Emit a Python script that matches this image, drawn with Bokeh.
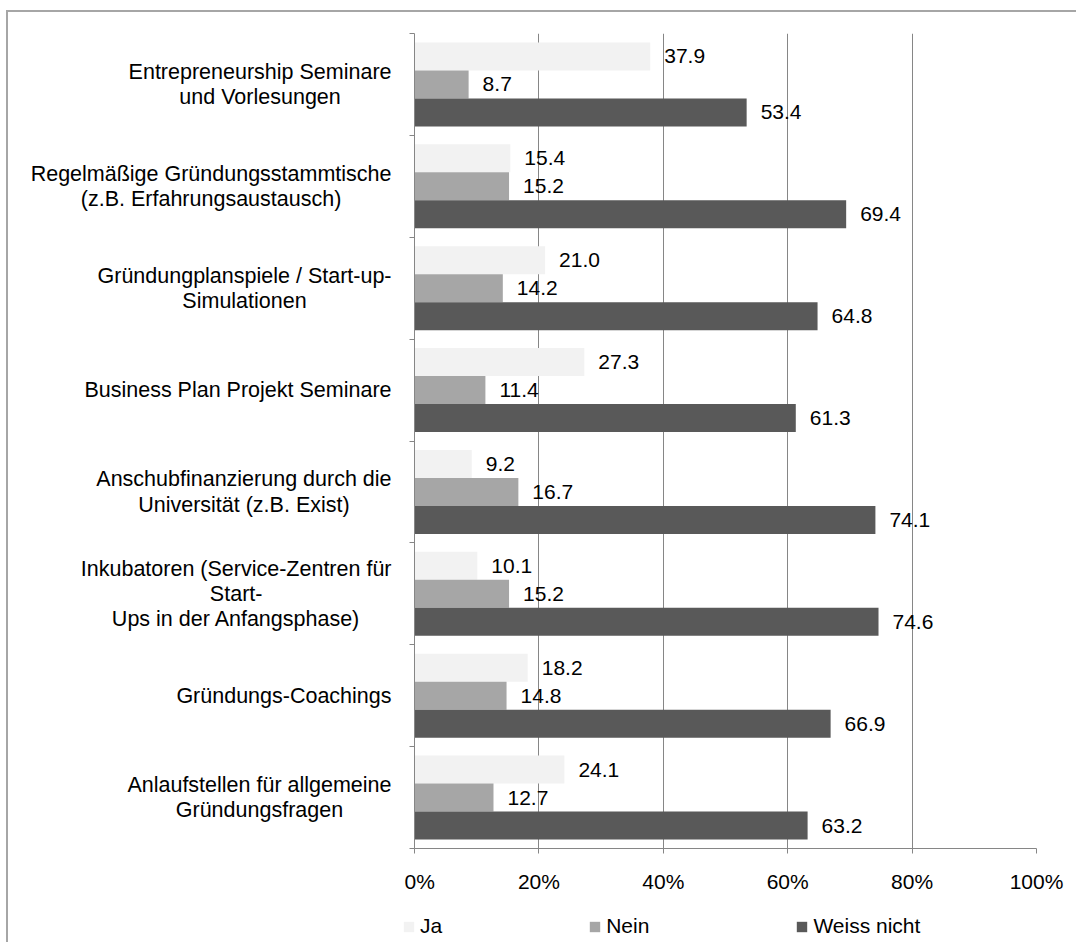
from bokeh.plotting import figure
from bokeh.models import (ColumnDataSource, Range1d, FixedTicker, PrintfTickFormatter,
                          Legend, LegendItem)
from bokeh.layouts import row, column
from bokeh.core.properties import value
from bokeh.transform import dodge
from bokeh.embed import file_html
from bokeh.resources import INLINE

categories = [
    "Entrepreneurship Seminare\nund Vorlesungen",
    "Regelmäßige Gründungsstammtische\n(z.B. Erfahrungsaustausch)",
    "Gründungplanspiele / Start-up-\nSimulationen",
    "Business Plan Projekt Seminare",
    "Anschubfinanzierung durch die\nUniversität (z.B. Exist)",
    "Inkubatoren (Service-Zentren für\nStart-\nUps in der Anfangsphase)",
    "Gründungs-Coachings",
    "Anlaufstellen für allgemeine\nGründungsfragen",
]
ja = [37.9, 15.4, 21.0, 27.3, 9.2, 10.1, 18.2, 24.1]
nein = [8.7, 15.2, 14.2, 11.4, 16.7, 15.2, 14.8, 12.7]
weiss = [53.4, 69.4, 64.8, 61.3, 74.1, 74.6, 66.9, 63.2]
series_names = ["Ja", "Nein", "Weiss nicht"]
x_ticks = [0, 20, 40, 60, 80, 100]

COLORS = ["#f2f2f2", "#a6a6a6", "#595959"]
FONT = "Liberation Sans"
FS = 21
FSS = "%dpx" % FS
CAT_FS = 21.5
GRAY = "#868686"

# Arial / Liberation Sans advance widths (per 1000 em), used to centre label lines
W = dict(zip("abcdefghijklmnopqrstuvwxyz",
             [556, 556, 500, 556, 556, 278, 556, 556, 222, 222, 500, 222, 833,
              556, 556, 556, 556, 333, 500, 278, 556, 500, 722, 500, 500, 500]))
W.update(zip("ABCDEFGHIJKLMNOPQRSTUVWXYZ",
             [667, 667, 722, 722, 667, 611, 778, 722, 278, 500, 667, 556, 833,
              722, 778, 667, 778, 722, 667, 611, 722, 667, 944, 667, 667, 611]))
W.update({" ": 278, "(": 333, ")": 333, "-": 333, ".": 278, "/": 278,
          "ä": 556, "ö": 556, "ü": 556, "ß": 611})


def text_width(s, fs):
    return sum(W.get(c, 556) for c in s) / 1000.0 * fs


TOTAL_W, TOTAL_H = 1076, 942
LAB_W = 404          # width of the category-label column
MAIN_H = 900
LEG_H = TOTAL_H - MAIN_H
TOP, BOTTOM = 33, 52

n = len(categories)
yc = [n - i - 0.5 for i in range(n)]
block_w = [max(text_width(line, CAT_FS) for line in c.split("\n")) for c in categories]
label_right = LAB_W - 13

src = ColumnDataSource(dict(
    cat=categories, yc=yc, ja=ja, nein=nein, weiss=weiss,
    ja_t=["%.1f" % v for v in ja],
    nein_t=["%.1f" % v for v in nein],
    weiss_t=["%.1f" % v for v in weiss],
    lx=[label_right - w / 2.0 for w in block_w],
))

y_range = Range1d(0, n)

# ---------- main bar chart ----------
p = figure(width=TOTAL_W - LAB_W, height=MAIN_H, output_backend="svg", toolbar_location=None,
           x_range=Range1d(0, 100), y_range=y_range, title=None,
           min_border_left=10, min_border_right=TOTAL_W - 1036, min_border_top=TOP,
           min_border_bottom=BOTTOM)
p.outline_line_color = None
p.background_fill_color = "white"
p.border_fill_alpha = 0

bh = 0.275
offsets = [bh, 0.0, -bh]
cols = ["ja", "nein", "weiss"]
for col, off, colr in zip(cols, offsets, COLORS):
    p.hbar(y=dodge("yc", off), left=0, right=col, height=bh, source=src,
           fill_color=colr, line_color=None)
    p.text(x=col, y=dodge("yc", off), text=col + "_t", source=src,
           x_offset=14, text_baseline="middle", text_align="left",
           text_font=value(FONT), text_font_size=value(FSS), text_color="black")

p.xaxis.ticker = FixedTicker(ticks=x_ticks)
p.xaxis.formatter = PrintfTickFormatter(format="%d%%")
p.xaxis.major_label_text_font = FONT
p.xaxis.major_label_text_font_size = FSS
p.xaxis.major_label_text_color = "black"
p.xaxis.major_label_standoff = 16
p.xaxis.axis_line_color = GRAY
p.xaxis.major_tick_line_color = GRAY
p.xaxis.major_tick_out = 5
p.xaxis.major_tick_in = 0
p.xaxis.minor_tick_line_color = None

p.yaxis.ticker = FixedTicker(ticks=list(range(n + 1)))
p.yaxis.major_label_overrides = {i: "" for i in range(n + 1)}
p.yaxis.major_label_standoff = 0
p.yaxis.axis_line_color = GRAY
p.yaxis.major_tick_line_color = GRAY
p.yaxis.major_tick_out = 5
p.yaxis.major_tick_in = 0
p.yaxis.minor_tick_line_color = None

p.xgrid.ticker = FixedTicker(ticks=x_ticks)
p.xgrid.grid_line_color = GRAY
p.ygrid.grid_line_color = None

# ---------- category labels column ----------
pl = figure(width=LAB_W, height=MAIN_H, output_backend="svg", toolbar_location=None,
            x_range=Range1d(0, LAB_W), y_range=y_range, title=None,
            x_axis_type=None, y_axis_type=None,
            min_border_left=0, min_border_right=0, min_border_top=TOP,
            min_border_bottom=BOTTOM)
pl.outline_line_color = None
pl.grid.grid_line_color = None
pl.background_fill_alpha = 0
pl.border_fill_alpha = 0
pl.text(x="lx", y="yc", text="cat", source=src, text_align="center",
        text_baseline="middle", text_font=value(FONT), text_font_size=value("%spx" % CAT_FS),
        text_color="black", text_line_height=1.05)

# ---------- legend row ----------
pg = figure(width=TOTAL_W, height=LEG_H, output_backend="svg", toolbar_location=None,
            x_range=Range1d(0, TOTAL_W), y_range=Range1d(0, LEG_H), title=None,
            x_axis_type=None, y_axis_type=None,
            min_border_left=0, min_border_right=0, min_border_top=0, min_border_bottom=0)
pg.outline_line_color = None
pg.grid.grid_line_color = None
pg.background_fill_alpha = 0
pg.border_fill_alpha = 0
# swatch-only renderers for the legend (placed outside the visible range)
leg_src = ColumnDataSource(dict(y=[-100], right=[0]))
leg_rs = [pg.hbar(y="y", right="right", height=1, source=leg_src, fill_color=c, line_color=None)
          for c in COLORS]
legend = Legend(items=[LegendItem(label=s, renderers=[r]) for s, r in zip(series_names, leg_rs)],
                orientation="horizontal", location=(402, 4), spacing=146,
                glyph_width=13, glyph_height=13, label_standoff=5, padding=0, margin=0,
                border_line_color=None, background_fill_alpha=0,
                label_text_font=FONT, label_text_font_size=FSS,
                label_text_color="black")
pg.add_layout(legend)

layout = column(row(pl, p, spacing=0), pg, spacing=0)
layout.styles = {
    "background": ("linear-gradient(#a6a6a6,#a6a6a6) 6px 10px / 2px calc(100% - 10px) no-repeat, "
                   "linear-gradient(#a6a6a6,#a6a6a6) 6px 10px / calc(100% - 6px) 2px no-repeat, white"),
}

open("out.html", "w").write(file_html(layout, INLINE))
